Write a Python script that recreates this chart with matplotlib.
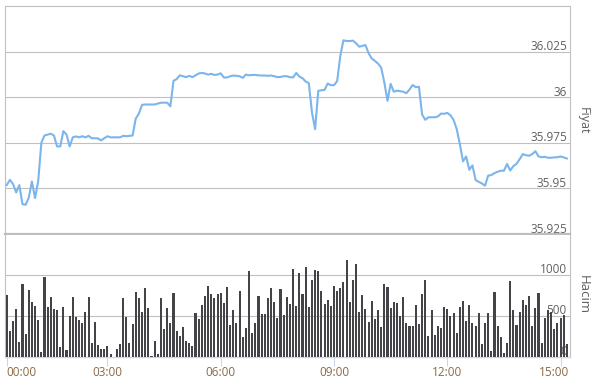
import matplotlib
matplotlib.use("Agg")
import matplotlib.pyplot as plt
import numpy as np

# ---------------- data ----------------
price = [
    35.9518, 35.9547, 35.9524, 35.9478, 35.9518, 35.9414, 35.9410, 35.9449, 35.9538, 35.9447,
    35.9540, 35.9750, 35.9790, 35.9795, 35.9800, 35.9790, 35.9730, 35.9730, 35.9814, 35.9795,
    35.9730, 35.9780, 35.9785, 35.9780, 35.9786, 35.9780, 35.9788, 35.9775, 35.9775, 35.9774,
    35.9763, 35.9775, 35.9786, 35.9780, 35.9780, 35.9780, 35.9780, 35.9788, 35.9786, 35.9788,
    35.9790, 35.9883, 35.9910, 35.9958, 35.9960, 35.9960, 35.9960, 35.9960, 35.9965, 35.9970,
    35.9970, 35.9970, 35.9950, 36.0090, 36.0099, 36.0120, 36.0115, 36.0110, 36.0117, 36.0110,
    36.0120, 36.0130, 36.0133, 36.0130, 36.0124, 36.0128, 36.0122, 36.0124, 36.0131, 36.0108,
    36.0108, 36.0115, 36.0119, 36.0117, 36.0115, 36.0106, 36.0124, 36.0120, 36.0122, 36.0122,
    36.0120, 36.0119, 36.0119, 36.0117, 36.0119, 36.0115, 36.0110, 36.0111, 36.0115, 36.0115,
    36.0110, 36.0108, 36.0133, 36.0113, 36.0104, 36.0086, 36.0077, 35.9916, 35.9825, 36.0035,
    36.0038, 36.0040, 36.0075, 36.0066, 36.0066, 36.0088, 36.0226, 36.0312, 36.0308, 36.0308,
    36.0310, 36.0296, 36.0277, 36.0281, 36.0286, 36.0241, 36.0212, 36.0199, 36.0184, 36.0162,
    36.0080, 35.9980, 36.0073, 36.0030, 36.0036, 36.0033, 36.0030, 36.0022, 36.0042, 36.0067,
    36.0055, 36.0057, 35.9905, 35.9876, 35.9890, 35.9890, 35.9890, 35.9894, 35.9910, 35.9909,
    35.9914, 35.9901, 35.9876, 35.9825, 35.9743, 35.9648, 35.9675, 35.9602, 35.9626, 35.9546,
    35.9536, 35.9527, 35.9515, 35.9570, 35.9573, 35.9584, 35.9591, 35.9597, 35.9597, 35.9634,
    35.9598, 35.9622, 35.9635, 35.9660, 35.9688, 35.9682, 35.9679, 35.9688, 35.9704, 35.9675,
    35.9671, 35.9673, 35.9668, 35.9668, 35.9670, 35.9671, 35.9675, 35.9670, 35.9664,
]

volume = [
    757, 317, 440, 586, 179, 891, 281, 822, 672, 619,
    448, 61, 977, 610, 733, 586, 570, 122, 610, 81,
    497, 733, 488, 448, 411, 545, 733, 167, 423, 147,
    94, 94, 130, 33, 0, 94, 155, 716, 484, 167,
    399, 790, 716, 545, 838, 594, 12, 191, 33, 716,
    338, 594, 411, 777, 313, 256, 366, 195, 171, 130,
    533, 460, 631, 741, 863, 765, 716, 765, 777, 655,
    851, 387, 570, 411, 806, 240, 350, 1046, 297, 411,
    741, 521, 521, 724, 838, 667, 472, 826, 509, 737,
    643, 1070, 619, 1022, 773, 1095, 606, 936, 1062, 1046,
    802, 643, 692, 619, 863, 802, 838, 912, 1180, 676,
    936, 1131, 553, 753, 582, 423, 680, 460, 570, 362,
    887, 851, 594, 667, 655, 497, 729, 411, 374, 374,
    631, 399, 769, 940, 252, 570, 265, 374, 350, 606,
    582, 497, 533, 289, 606, 680, 435, 631, 411, 374,
    533, 155, 411, 533, 69, 790, 374, 240, 45, 167,
    924, 570, 387, 545, 692, 631, 741, 374, 594, 777,
    167, 472, 570, 545, 338, 411, 472, 513, 155,
]

time_tick_pos = [0, 32, 68, 104, 140, 176]
time_tick_labels = ["00:00", "03:00", "06:00", "09:00", "12:00", "15:00"]

price_ticks = [35.925, 35.95, 35.975, 36.0, 36.025]
price_tick_labels = ["35.925", "35.95", "35.975", "36", "36.025"]
volume_ticks = [0, 500, 1000]
volume_tick_labels = ["0", "500", "1000"]

# ---------------- style ----------------
FONT = "Open Sans"
W, H = 595, 387
LINE_C = "#7cb5ec"
BAR_C = "#434348"
GRID_C = "#c0c0c0"
FRAME_C = "#c0c0c0"
TICK_C = "#ccd6eb"
LABEL_C = "#606060"
XLAB_C = "#8a6a45"

fig = plt.figure(figsize=(W / 100, H / 100), dpi=100)
fig.patch.set_facecolor("white")

def px_axes(left, top, right, bottom):
    return fig.add_axes([left / W, 1 - bottom / H, (right - left) / W, (bottom - top) / H])

x = np.arange(len(price))
xv = np.arange(len(volume))
XMIN, XMAX = -0.55, 179.0

# ---------- price panel ----------
axp = px_axes(5, 6, 570, 234)
axp.set_xlim(XMIN, XMAX)
axp.set_ylim(35.925, 36.05)
for t in price_ticks[1:]:
    axp.axhline(t, color=GRID_C, lw=0.8, zorder=1)
axp.plot(x, price, color=LINE_C, lw=1.5, zorder=3, solid_joinstyle="round")
axp.set_xticks([])
axp.set_yticks([])
for s in ["top", "left", "right"]:
    axp.spines[s].set_color(FRAME_C)
    axp.spines[s].set_linewidth(0.8)
axp.spines["bottom"].set_color("#bdbdbd")
axp.spines["bottom"].set_linewidth(1.6)
for t, lab in zip(price_ticks, price_tick_labels):
    axp.annotate(lab, xy=(1.0, t), xycoords=("axes fraction", "data"),
                 xytext=(-2.3, 1.0), textcoords="offset points",
                 ha="right", va="baseline", fontsize=8.5, family=FONT,
                 color=LABEL_C, zorder=2)
fig.text(583 / W, 1 - 121 / H, "Fiyat", rotation=270, ha="center", va="center",
         fontsize=9, family=FONT, color=LABEL_C)

# ---------- volume panel ----------
axv = px_axes(5, 235, 570, 357)
axv.set_xlim(XMIN, XMAX)
axv.set_ylim(0, 1488)
for t in volume_ticks[1:]:
    axv.axhline(t, color=GRID_C, lw=0.8, zorder=1)
for t, lab in zip(volume_ticks, volume_tick_labels):
    axv.annotate(lab, xy=(1.0, t), xycoords=("axes fraction", "data"),
                 xytext=(-2.3, 1.7), textcoords="offset points",
                 ha="right", va="baseline", fontsize=8.5, family=FONT,
                 color=LABEL_C, zorder=1.5)
axv.bar(xv, volume, width=0.66, color=BAR_C, zorder=3, linewidth=0)
axv.set_yticks([])
for s in ["left", "right"]:
    axv.spines[s].set_color(FRAME_C)
    axv.spines[s].set_linewidth(0.8)
axv.spines["top"].set_visible(False)
axv.spines["bottom"].set_color(TICK_C)
axv.spines["bottom"].set_linewidth(1.0)
axv.set_xticks(time_tick_pos)
axv.set_xticklabels([])
axv.tick_params(axis="x", direction="out", length=6.5, width=0.8, color=TICK_C)
for i, (p, lab) in enumerate(zip(time_tick_pos, time_tick_labels)):
    ha = "center"
    dx = 0
    if i == 0:
        ha, dx = "left", -0.5
    elif i == len(time_tick_pos) - 1:
        ha, dx = "right", 6.0
    axv.annotate(lab, xy=(p, 0), xycoords=("data", "axes fraction"),
                 xytext=(dx, -11.5), textcoords="offset points",
                 ha=ha, va="center", fontsize=8.5, family=FONT,
                 color=XLAB_C, annotation_clip=False)
fig.text(583 / W, 1 - 295 / H, "Hacim", rotation=270, ha="center", va="center",
         fontsize=9.5, family=FONT, color=LABEL_C)

fig.savefig("out.png", dpi=100, facecolor="white")
